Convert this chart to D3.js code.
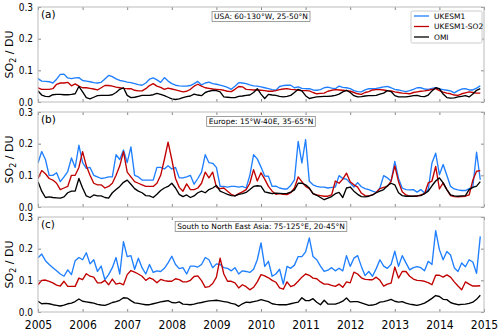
<!DOCTYPE html>
<html>
<head>
<meta charset="utf-8">
<script src="https://cdn.jsdelivr.net/npm/d3@7"></script>
<style>
  body { margin: 0; background: #fff; }
  svg text { font-family: "DejaVu Sans", sans-serif; }
</style>
</head>
<body>
<div id="chart"></div>
<script>
// monthly SO2 columns (DU), Jan 2005 .. Dec 2014
var startYear = 2005;
var xTicks = [2005, 2006, 2007, 2008, 2009, 2010, 2011, 2012, 2013, 2014, 2015];
var yTicks = [0.0, 0.1, 0.2, 0.3];
var seriesNames = ["UKESM1", "UKESM1-SO2", "OMI"];
var seriesColors = ["#1f7fff", "#c00000", "#000000"];
var panelLetters = ["(a)", "(b)", "(c)"];
var regionNames = ["USA: 60-130\u00b0W, 25-50\u00b0N", "Europe: 15\u00b0W-40E, 35-65\u00b0N", "South to North East Asia: 75-125\u00b0E, 20-45\u00b0N"];

var usaUkesm = [0.074,0.066,0.065,0.064,0.060,0.072,0.087,0.088,0.076,0.074,0.076,0.077,
  0.068,0.066,0.064,0.061,0.060,0.062,0.073,0.084,0.080,0.073,0.068,0.066,
  0.063,0.061,0.058,0.055,0.053,0.060,0.072,0.076,0.070,0.062,0.077,0.066,
  0.058,0.053,0.051,0.050,0.050,0.052,0.058,0.065,0.054,0.060,0.063,0.058,
  0.056,0.053,0.050,0.046,0.040,0.050,0.061,0.060,0.058,0.054,0.051,0.050,
  0.048,0.045,0.042,0.039,0.037,0.049,0.052,0.053,0.053,0.045,0.048,0.043,
  0.042,0.042,0.038,0.037,0.039,0.045,0.047,0.044,0.042,0.050,0.046,0.045,
  0.042,0.036,0.033,0.032,0.038,0.042,0.042,0.043,0.045,0.048,0.049,0.045,
  0.040,0.038,0.035,0.033,0.036,0.040,0.045,0.045,0.041,0.040,0.043,0.045,
  0.041,0.039,0.037,0.035,0.029,0.036,0.041,0.042,0.038,0.038,0.044,0.051];
var usaUkesmSo2 = [0.045,0.040,0.040,0.040,0.042,0.056,0.060,0.060,0.062,0.051,0.057,0.050,
  0.045,0.045,0.043,0.041,0.038,0.045,0.052,0.052,0.050,0.047,0.045,0.043,
  0.042,0.042,0.037,0.035,0.035,0.042,0.052,0.058,0.050,0.046,0.040,0.044,
  0.041,0.038,0.035,0.032,0.034,0.040,0.050,0.056,0.050,0.045,0.043,0.041,
  0.040,0.039,0.037,0.034,0.033,0.040,0.049,0.048,0.040,0.039,0.038,0.038,
  0.037,0.036,0.034,0.034,0.036,0.039,0.041,0.042,0.040,0.039,0.037,0.036,
  0.036,0.035,0.030,0.026,0.027,0.028,0.034,0.037,0.039,0.038,0.037,0.036,
  0.034,0.030,0.026,0.024,0.030,0.033,0.038,0.039,0.039,0.038,0.036,0.035,
  0.032,0.030,0.028,0.027,0.026,0.030,0.032,0.034,0.035,0.037,0.040,0.042,
  0.036,0.031,0.028,0.026,0.022,0.021,0.026,0.029,0.032,0.030,0.028,0.028];
var usaOmi = [0.035,0.022,0.018,0.017,0.023,0.024,0.024,0.023,0.023,0.024,0.026,0.049,
  0.032,0.014,0.010,0.015,0.020,0.021,0.021,0.021,0.023,0.030,0.040,0.045,
  0.021,0.014,0.015,0.018,0.021,0.021,0.021,0.023,0.027,0.024,0.020,0.015,
  0.010,0.008,0.010,0.014,0.017,0.019,0.025,0.022,0.020,0.030,0.034,0.037,
  0.036,0.032,0.016,0.015,0.014,0.014,0.018,0.019,0.021,0.022,0.030,0.042,
  0.025,0.011,0.024,0.022,0.021,0.018,0.016,0.018,0.021,0.030,0.040,0.035,
  0.020,0.011,0.014,0.016,0.017,0.018,0.018,0.019,0.021,0.025,0.032,0.037,
  0.030,0.020,0.016,0.017,0.019,0.020,0.020,0.021,0.025,0.028,0.036,0.033,
  0.020,0.016,0.016,0.016,0.018,0.020,0.021,0.018,0.017,0.022,0.035,0.045,
  0.042,0.025,0.014,0.012,0.013,0.016,0.018,0.020,0.016,0.025,0.037,0.042];

var eurUkesm = [0.139,0.175,0.150,0.100,0.100,0.108,0.080,0.095,0.112,0.155,0.125,0.195,
  0.140,0.122,0.125,0.100,0.095,0.090,0.092,0.095,0.095,0.165,0.150,0.180,
  0.140,0.190,0.100,0.095,0.085,0.085,0.085,0.085,0.125,0.125,0.120,0.130,
  0.120,0.125,0.092,0.092,0.095,0.100,0.072,0.090,0.110,0.165,0.140,0.138,
  0.125,0.065,0.065,0.063,0.065,0.065,0.063,0.065,0.060,0.100,0.165,0.152,
  0.126,0.098,0.097,0.065,0.066,0.060,0.057,0.057,0.068,0.086,0.207,0.139,
  0.213,0.081,0.070,0.065,0.063,0.063,0.060,0.062,0.063,0.099,0.090,0.088,
  0.076,0.063,0.077,0.064,0.058,0.055,0.050,0.046,0.060,0.099,0.092,0.081,
  0.144,0.090,0.060,0.055,0.054,0.055,0.047,0.055,0.044,0.055,0.139,0.170,
  0.102,0.134,0.100,0.065,0.057,0.054,0.052,0.052,0.058,0.063,0.173,0.086];
var eurUkesmSo2 = [0.090,0.115,0.105,0.090,0.085,0.075,0.055,0.060,0.065,0.100,0.100,0.125,
  0.175,0.130,0.100,0.075,0.070,0.070,0.060,0.065,0.075,0.100,0.130,0.175,
  0.110,0.095,0.080,0.075,0.070,0.065,0.065,0.065,0.075,0.100,0.150,0.205,
  0.150,0.090,0.062,0.050,0.073,0.055,0.055,0.060,0.075,0.110,0.092,0.110,
  0.063,0.058,0.060,0.050,0.040,0.035,0.042,0.048,0.055,0.075,0.118,0.082,
  0.108,0.088,0.065,0.050,0.040,0.042,0.040,0.039,0.045,0.060,0.095,0.080,
  0.065,0.058,0.042,0.038,0.036,0.034,0.034,0.038,0.082,0.075,0.088,0.107,
  0.080,0.070,0.063,0.044,0.036,0.035,0.038,0.046,0.058,0.062,0.065,0.082,
  0.130,0.080,0.048,0.038,0.034,0.034,0.034,0.038,0.042,0.076,0.082,0.128,
  0.057,0.076,0.055,0.036,0.033,0.032,0.033,0.034,0.038,0.085,0.113,0.115];
var eurOmi = [0.080,0.050,0.030,0.032,0.030,0.029,0.028,0.032,0.045,0.050,0.050,0.090,
  0.060,0.035,0.030,0.038,0.035,0.035,0.030,0.028,0.045,0.055,0.065,0.078,
  0.085,0.072,0.058,0.050,0.045,0.036,0.035,0.030,0.040,0.052,0.060,0.065,
  0.075,0.060,0.040,0.033,0.038,0.030,0.035,0.045,0.050,0.045,0.055,0.060,
  0.068,0.050,0.045,0.040,0.036,0.035,0.040,0.042,0.046,0.055,0.065,0.067,
  0.066,0.048,0.045,0.042,0.044,0.043,0.042,0.043,0.047,0.054,0.075,0.075,
  0.070,0.060,0.042,0.037,0.030,0.023,0.028,0.033,0.042,0.046,0.030,0.060,
  0.063,0.050,0.040,0.033,0.032,0.034,0.038,0.045,0.050,0.055,0.067,0.075,
  0.070,0.045,0.036,0.034,0.034,0.034,0.035,0.036,0.042,0.050,0.067,0.082,
  0.092,0.076,0.055,0.038,0.035,0.034,0.035,0.036,0.055,0.062,0.066,0.080];

var asiaUkesm = [0.171,0.183,0.162,0.150,0.140,0.130,0.120,0.113,0.133,0.118,0.162,0.172,
  0.165,0.187,0.152,0.165,0.128,0.145,0.102,0.118,0.140,0.172,0.120,0.222,
  0.175,0.178,0.135,0.170,0.140,0.120,0.150,0.125,0.130,0.128,0.138,0.155,
  0.176,0.150,0.137,0.140,0.120,0.145,0.145,0.142,0.150,0.172,0.165,0.140,
  0.152,0.150,0.140,0.138,0.130,0.140,0.120,0.130,0.128,0.125,0.135,0.165,
  0.218,0.144,0.160,0.113,0.120,0.135,0.088,0.144,0.138,0.148,0.175,0.175,
  0.190,0.234,0.175,0.165,0.145,0.128,0.132,0.140,0.130,0.138,0.130,0.178,
  0.144,0.170,0.178,0.144,0.115,0.128,0.113,0.137,0.165,0.145,0.138,0.150,
  0.192,0.144,0.178,0.155,0.133,0.140,0.143,0.140,0.130,0.160,0.150,0.257,
  0.197,0.165,0.191,0.180,0.140,0.128,0.155,0.143,0.165,0.158,0.122,0.239];
var asiaUkesmSo2 = [0.086,0.100,0.101,0.097,0.092,0.085,0.082,0.097,0.081,0.081,0.081,0.107,
  0.102,0.121,0.113,0.110,0.092,0.092,0.100,0.086,0.104,0.088,0.091,0.086,
  0.118,0.131,0.126,0.120,0.113,0.100,0.108,0.103,0.092,0.103,0.099,0.097,
  0.097,0.105,0.102,0.095,0.095,0.100,0.112,0.114,0.099,0.078,0.080,0.090,
  0.110,0.170,0.120,0.097,0.097,0.092,0.076,0.086,0.080,0.070,0.078,0.095,
  0.118,0.114,0.108,0.100,0.094,0.076,0.072,0.095,0.080,0.085,0.097,0.110,
  0.120,0.116,0.107,0.105,0.095,0.088,0.088,0.084,0.081,0.088,0.078,0.095,
  0.092,0.126,0.120,0.108,0.103,0.102,0.102,0.110,0.100,0.082,0.088,0.091,
  0.142,0.107,0.128,0.128,0.113,0.104,0.100,0.099,0.097,0.093,0.086,0.116,
  0.116,0.110,0.117,0.110,0.095,0.082,0.070,0.095,0.088,0.082,0.082,0.083];
var asiaOmi = [0.034,0.026,0.027,0.026,0.023,0.021,0.019,0.022,0.026,0.028,0.033,0.041,
  0.034,0.032,0.030,0.028,0.024,0.022,0.021,0.025,0.030,0.033,0.037,0.045,
  0.044,0.036,0.029,0.027,0.025,0.023,0.023,0.026,0.029,0.032,0.034,0.036,
  0.030,0.029,0.032,0.025,0.024,0.023,0.025,0.028,0.030,0.033,0.035,0.036,
  0.037,0.035,0.033,0.031,0.027,0.025,0.018,0.026,0.031,0.030,0.033,0.035,
  0.039,0.036,0.033,0.026,0.024,0.023,0.023,0.023,0.026,0.029,0.031,0.045,
  0.036,0.036,0.042,0.031,0.023,0.037,0.025,0.025,0.025,0.029,0.034,0.044,
  0.032,0.033,0.033,0.029,0.025,0.021,0.022,0.025,0.031,0.033,0.036,0.040,
  0.034,0.031,0.033,0.028,0.025,0.023,0.021,0.024,0.028,0.035,0.043,0.052,
  0.049,0.040,0.039,0.030,0.026,0.023,0.024,0.025,0.027,0.031,0.040,0.053];

var panels = [
  [usaUkesm, usaUkesmSo2, usaOmi],
  [eurUkesm, eurUkesmSo2, eurOmi],
  [asiaUkesm, asiaUkesmSo2, asiaOmi]
];

// layout
var width = 500, height = 333;
var left = 38, right = 484;
var panelTops = [7, 112, 217];
var panelH = 95;

var svg = d3.select("#chart")
  .append("svg")
    .attr("width", width)
    .attr("height", height);

var x = d3.scaleLinear()
  .domain([2005, 2015])
  .range([left, right]);

panels.forEach(function(series, p) {
  var top = panelTops[p];
  var y = d3.scaleLinear()
    .domain([0, 0.3])
    .range([top + panelH, top]);

  var g = svg.append("g");

  // clip so lines stay inside the frame
  svg.append("clipPath").attr("id", "clip" + p)
    .append("rect")
      .attr("x", left).attr("y", top)
      .attr("width", right - left).attr("height", panelH);

  var line = d3.line()
    .x(function(d, i) { return x(startYear + i / 12); })
    .y(function(d) { return y(d); });

  var lg = g.append("g").attr("clip-path", "url(#clip" + p + ")");
  series.forEach(function(vals, s) {
    lg.append("path")
      .datum(vals)
      .attr("fill", "none")
      .attr("stroke", seriesColors[s])
      .attr("stroke-width", 1.35)
      .attr("stroke-linejoin", "round")
      .attr("d", line);
  });

  // axes, ticks pointing in
  var axL = g.append("g")
    .attr("transform", "translate(" + left + ",0)")
    .call(d3.axisLeft(y).tickValues(yTicks).tickFormat(d3.format(".1f")).tickSizeInner(-3).tickSizeOuter(0).tickPadding(5));
  var axR = g.append("g")
    .attr("transform", "translate(" + right + ",0)")
    .call(d3.axisRight(y).tickValues(yTicks).tickFormat("").tickSizeInner(-3).tickSizeOuter(0));
  var axB = g.append("g")
    .attr("transform", "translate(0," + (top + panelH) + ")")
    .call(d3.axisBottom(x).tickValues(xTicks).tickFormat(p == 2 ? d3.format("d") : "").tickSizeInner(-3).tickSizeOuter(0).tickPadding(8.5));
  var axT = g.append("g")
    .attr("transform", "translate(0," + top + ")")
    .call(d3.axisTop(x).tickValues(xTicks).tickFormat("").tickSizeInner(-3).tickSizeOuter(0));

  [axL, axR, axB, axT].forEach(function(a) {
    a.select(".domain").remove();
    a.selectAll("line").attr("stroke", "#888");
    a.selectAll("text").attr("fill", "#000").style("font-family", "'DejaVu Sans Condensed', 'DejaVu Sans'");
  });
  axL.selectAll("text").style("font-size", "10px");
  axB.selectAll("text").style("font-size", "12px");

  // frame
  g.append("rect")
    .attr("x", left).attr("y", top)
    .attr("width", right - left).attr("height", panelH)
    .attr("fill", "none")
    .attr("stroke", "#bbb")
    .attr("stroke-width", 1);

  // panel letter
  g.append("text")
    .attr("x", left + 3).attr("y", top + 11)
    .style("font-size", "10.5px")
    .text(panelLetters[p]);

  // region label box
  var boxRect = g.append("rect");
  var rt = g.append("text")
    .attr("x", (left + right) / 2).attr("y", top + 12)
    .attr("text-anchor", "middle")
    .style("font-size", "7.5px")
    .text(regionNames[p]);
  var bb = rt.node().getBBox();
  boxRect
    .attr("x", bb.x - 2).attr("y", bb.y - 0.5)
    .attr("width", bb.width + 4).attr("height", bb.height + 1)
    .attr("fill", "#fff")
    .attr("stroke", "#888")
    .attr("stroke-width", 0.8);

  // y label
  var yl = g.append("text")
    .attr("transform", "translate(13," + (top + panelH / 2) + ") rotate(-90)")
    .attr("text-anchor", "middle")
    .style("font-size", "11px");
  yl.append("tspan").text("SO");
  yl.append("tspan").attr("dy", 3).style("font-size", "8px").text("2");
  yl.append("tspan").attr("dy", -3).text(" / DU");
});

// legend in panel (a)
var lgd = svg.append("g").attr("transform", "translate(411,11)");
lgd.append("rect")
  .attr("width", 71).attr("height", 32)
  .attr("rx", 1.5)
  .attr("fill", "#fff")
  .attr("stroke", "#ccc");
seriesNames.forEach(function(n, i) {
  lgd.append("line")
    .attr("x1", 3).attr("x2", 18)
    .attr("y1", 5 + i * 10.5).attr("y2", 5 + i * 10.5)
    .attr("stroke", seriesColors[i])
    .attr("stroke-width", 1.3);
  lgd.append("text")
    .attr("x", 23).attr("y", 5 + i * 10.5)
    .attr("dy", "0.35em")
    .style("font-size", "7.5px")
    .text(n);
});
</script>
</body>
</html>
